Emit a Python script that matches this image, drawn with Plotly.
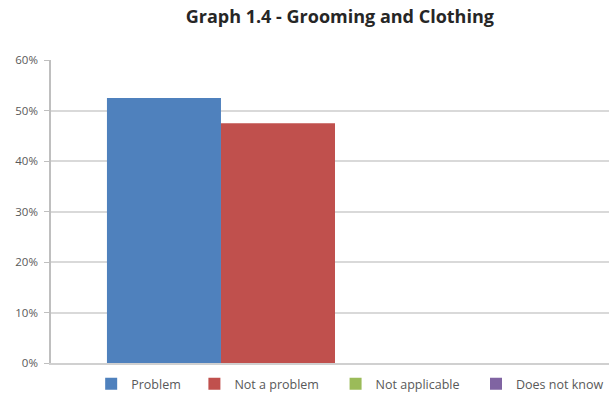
import plotly.graph_objects as go

# Survey responses for the grooming and clothing question
series = ["Problem", "Not a problem", "Not applicable", "Does not know"]
values = [52.5, 47.5, 0.0, 0.0]
colors = ["#4F81BD", "#C0504D", "#9BBB59", "#8064A2"]
category = [""]
tick_vals = [0, 10, 20, 30, 40, 50, 60]
tick_text = ["0%", "10%", "20%", "30%", "40%", "50%", "60%"]

# Left edge (paper fraction) of each legend entry along the bottom row
legend_x = [0.072, 0.257, 0.510, 0.762]
legend_ids = ["legend", "legend2", "legend3", "legend4"]

fig = go.Figure()
for name, val, col, lid in zip(series, values, colors, legend_ids):
    fig.add_trace(go.Bar(x=category, y=[val], name=name, legend=lid,
                         marker=dict(color=col, line=dict(width=0))))

legend_style = dict(orientation="h", xanchor="left", y=-0.07, yanchor="middle",
                    font=dict(family="Open Sans, sans-serif", size=12.5, color="#595959"),
                    itemwidth=30, bgcolor="rgba(0,0,0,0)")

fig.update_layout(
    width=609, height=408,
    margin=dict(l=51, r=0, t=60, b=45),
    paper_bgcolor="white", plot_bgcolor="white",
    barmode="group", bargap=0.197, bargroupgap=0,
    title=dict(text="<b>Graph 1.4 - Grooming and Clothing</b>", x=0.558, xanchor="center",
               y=0.958, yanchor="middle",
               font=dict(family="Open Sans, sans-serif", size=18, color="#262626")),
    font=dict(family="Open Sans, sans-serif", color="#595959"),
    showlegend=True,
    legend=dict(x=legend_x[0], **legend_style),
    legend2=dict(x=legend_x[1], **legend_style),
    legend3=dict(x=legend_x[2], **legend_style),
    legend4=dict(x=legend_x[3], **legend_style),
)
fig.update_xaxes(type="category", range=[-0.5, 0.4824], showticklabels=False,
                 showline=True, linecolor="#D0D0D0", linewidth=1.5, showgrid=False, ticks="")
fig.update_yaxes(range=[0, 60], tickvals=tick_vals, ticktext=tick_text,
                 showgrid=True, gridcolor="#D9D9D9", gridwidth=1.5,
                 showline=True, linecolor="#BFBFBF", linewidth=1.5,
                 ticks="outside", ticklen=5, tickcolor="#BFBFBF", ticklabelstandoff=4,
                 tickfont=dict(size=11.5, color="#595959"), zeroline=False)

fig.write_html("out.html")
